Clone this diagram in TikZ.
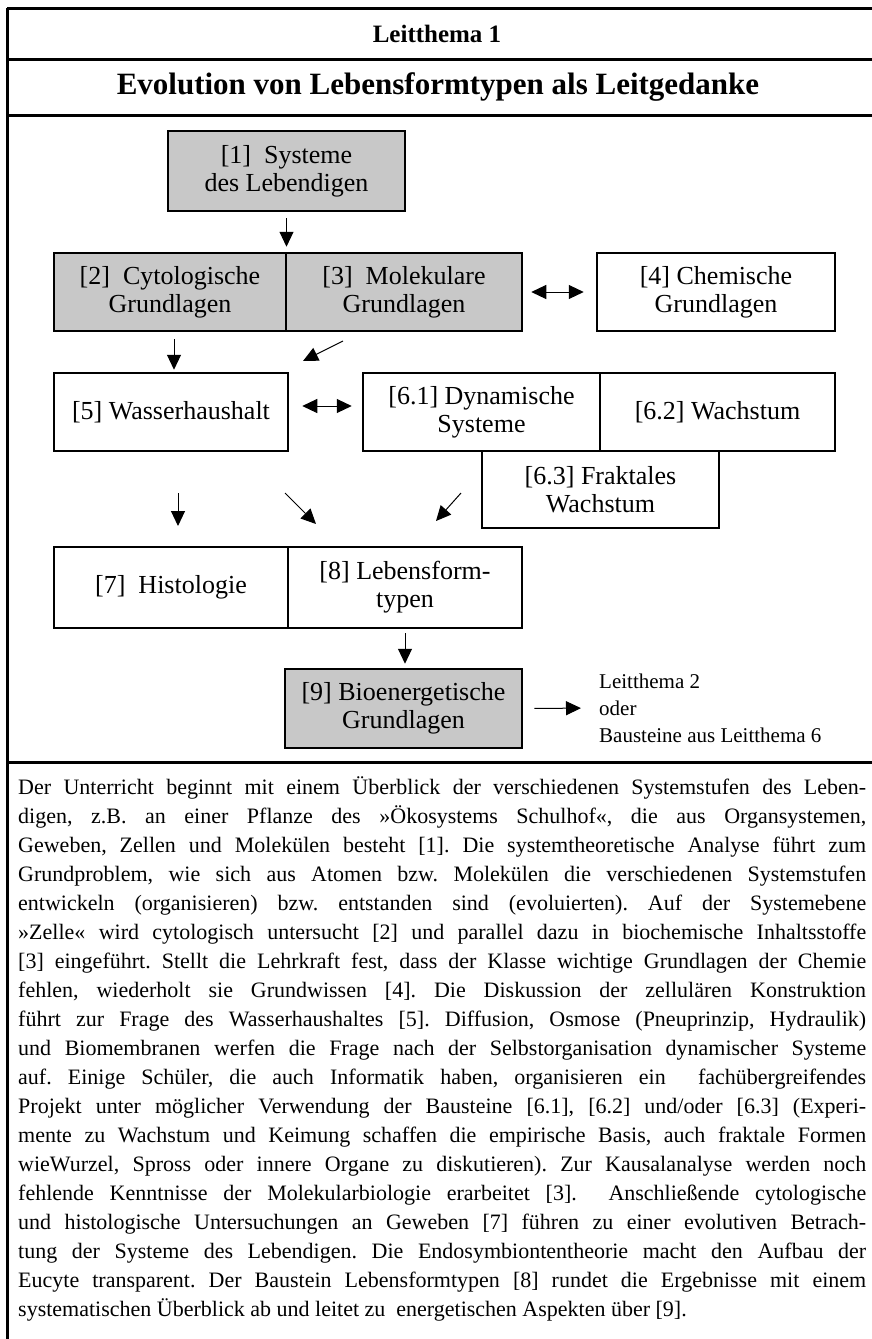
\documentclass[tikz,border=0pt]{standalone}
\usepackage{fontspec}
\setmainfont{Liberation Serif}
\usetikzlibrary{arrows.meta}
\definecolor{boxgray}{RGB}{200,200,200}

\begin{document}
\begin{tikzpicture}[x=1pt,y=-1pt,
  frame/.style={line width=3pt},
  unit/.style={draw, line width=2.5pt, align=center, inner sep=0pt,
    font=\fontsize{26}{28}\selectfont},
  shaded/.style={unit, fill=boxgray},
  arr/.style={line width=1pt, -{Triangle[length=15pt,width=14pt]}},
  darr/.style={line width=1pt, {Triangle[length=15pt,width=14pt]}-{Triangle[length=15pt,width=14pt]}},
]
\useasboundingbox (0,0) rectangle (872,1339);

% outer frame and header rules
\draw[frame] (7,8) -- (872,8);
\draw[frame] (7,8) -- (7,1339);
\draw[frame] (7,59) -- (872,59);
\draw[frame] (7,115) -- (872,115);
\draw[frame] (7,762) -- (872,762);

\node[font=\bfseries\fontsize{25}{30}\selectfont] (title) at (437,34) {Leitthema 1};
\node[font=\bfseries\fontsize{31}{36}\selectfont] (heading) at (438,87) {Evolution von Lebensformtypen als Leitgedanke};

% building blocks
\node[shaded, minimum width=237pt, minimum height=80pt] (b1) at (286.5,171) {[1]\ \ Systeme\\des Lebendigen};

\node[shaded, minimum width=232pt, minimum height=78pt] (b2) at (170,292) {[2]\ \ Cytologische\\Grundlagen};
\node[shaded, minimum width=236pt, minimum height=78pt] (b3) at (404,292) {[3]\ \ Molekulare\\Grundlagen};
\node[unit, minimum width=238pt, minimum height=78pt] (b4) at (716,292) {[4] Chemische\\Grundlagen};

\node[unit, minimum width=234pt, minimum height=78pt] (b5) at (171,412) {[5] Wasserhaushalt};
\node[unit, minimum width=237pt, minimum height=78pt] (b61) at (481.5,412) {[6.1] Dynamische\\Systeme};
\node[unit, minimum width=235pt, minimum height=78pt] (b62) at (717.5,412) {[6.2] Wachstum};
\node[unit, minimum width=237pt, minimum height=77pt] (b63) at (600.5,489.5) {[6.3] Fraktales\\Wachstum};

\node[unit, minimum width=234pt, minimum height=81pt] (b7) at (171,587.5) {[7]\ \ Histologie};
\node[unit, minimum width=234pt, minimum height=81pt] (b8) at (405,587.5) {[8] Lebensform-\\typen};

\node[shaded, minimum width=237pt, minimum height=79pt] (b9) at (403.5,708.5) {[9] Bioenergetische\\Grundlagen};

\node[anchor=west, align=left, inner sep=0pt, font=\fontsize{21}{27}\selectfont] (side) at (599,708)
  {Leitthema 2\\oder\\Bausteine aus Leitthema 6};

% free ends of the floating arrows
\coordinate (d1a) at (343,341);
\coordinate (d1b) at (303,361);
\coordinate (v5a) at (178,493);
\coordinate (v5b) at (178,526);
\coordinate (d2a) at (285,493);
\coordinate (d2b) at (316,524);
\coordinate (d3a) at (461,493);
\coordinate (d3b) at (436,521);

% connectors
\draw[arr, shorten <=6pt, shorten >=5pt] (b1.south) -- (b1.south |- b2.north);
\draw[darr, shorten <=8pt, shorten >=12pt] (b3.east) -- (b4.west);
\draw[arr, shorten <=7pt, shorten >=2pt] ([xshift=4pt]b2.south) -- ([xshift=4pt]b2.south |- b5.north);
\draw[arr] (d1a) -- (d1b);
\draw[darr, shorten <=13pt, shorten >=10pt] ([yshift=6pt]b5.east) -- ([yshift=6pt]b61.west);
\draw[arr] (v5a) -- (v5b);
\draw[arr] (d2a) -- (d2b);
\draw[arr] (d3a) -- (d3b);
\draw[arr, shorten <=4pt, shorten >=4pt] (b8.south) -- (b8.south |- b9.north);
\draw[arr, shorten <=11pt, shorten >=18pt] (b9.east) -- (side.west);

% explanatory text
\node[anchor=north west, text width=848pt, align=justify, inner sep=0pt,
  font=\fontsize{22}{29}\selectfont] (txt) at (18,776) {\frenchspacing\hyphenpenalty=10000\tolerance=9999
Der Unterricht beginnt mit einem Überblick der verschiedenen Systemstufen des Leben-\linebreak{}
digen, z.B. an einer Pflanze des »Ökosystems Schulhof«, die aus Organsystemen,\linebreak{}
Geweben, Zellen und Molekülen besteht [1]. Die systemtheoretische Analyse führt zum\linebreak{}
Grundproblem, wie sich aus Atomen bzw. Molekülen die verschiedenen Systemstufen\linebreak{}
entwickeln (organisieren) bzw. entstanden sind (evoluierten). Auf der Systemebene\linebreak{}
»Zelle« wird cytologisch untersucht [2] und parallel dazu in biochemische Inhaltsstoffe\linebreak{}
[3] eingeführt. Stellt die Lehrkraft fest, dass der Klasse wichtige Grundlagen der Chemie\linebreak{}
fehlen, wiederholt sie Grundwissen [4]. Die Diskussion der zellulären Konstruktion\linebreak{}
führt zur Frage des Wasserhaushaltes [5]. Diffusion, Osmose (Pneuprinzip, Hydraulik)\linebreak{}
und Biomembranen werfen die Frage nach der Selbstorganisation dynamischer Systeme\linebreak{}
auf. Einige Schüler, die auch Informatik haben, organisieren ein\ \ fachübergreifendes\linebreak{}
Projekt unter möglicher Verwendung der Bausteine [6.1], [6.2] und/oder [6.3] (Experi-\linebreak{}
mente zu Wachstum und Keimung schaffen die empirische Basis, auch fraktale Formen\linebreak{}
wieWurzel, Spross oder innere Organe zu diskutieren). Zur Kausalanalyse werden noch\linebreak{}
fehlende Kenntnisse der Molekularbiologie erarbeitet [3].\ \ Anschließende cytologische\linebreak{}
und histologische Untersuchungen an Geweben [7] führen zu einer evolutiven Betrach-\linebreak{}
tung der Systeme des Lebendigen. Die Endosymbiontentheorie macht den Aufbau der\linebreak{}
Eucyte transparent. Der Baustein Lebensformtypen [8] rundet die Ergebnisse mit einem\linebreak{}
systematischen Überblick ab und leitet zu\ \ energetischen Aspekten über [9].};
\end{tikzpicture}
\end{document}
